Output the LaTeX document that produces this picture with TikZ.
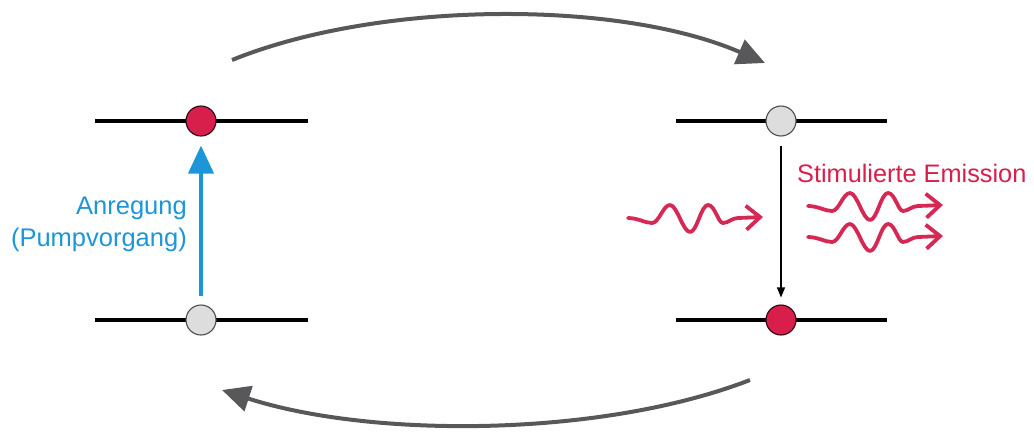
\documentclass[tikz,border=0pt]{standalone}
\usepackage{fontspec}
\setmainfont{Liberation Sans}
\usetikzlibrary{arrows.meta}
\definecolor{myred}{RGB}{216,30,75}
\definecolor{wavered}{RGB}{214,40,85}
\definecolor{myblue}{RGB}{28,150,215}
\definecolor{mygray}{RGB}{221,221,221}
\definecolor{arcgray}{RGB}{88,88,90}
\begin{document}
\begin{tikzpicture}[x=1pt,y=1pt,
  level/.style={line width=3.5pt,black},
  redball/.style={circle,minimum size=30pt,inner sep=0pt,fill=myred,draw=black!80!myred,line width=1.1pt},
  grayball/.style={circle,minimum size=30pt,inner sep=0pt,fill=mygray,draw=black!70,line width=1.1pt},
  cycle/.style={line width=4pt,arcgray,-{Triangle[length=28pt,width=26pt]}},
  wavy/.style={line width=3.8pt,wavered,line cap=round,line join=round,-{Straight Barb[length=14pt,width=24pt]}},
  wave/.pic={\draw[wavy] (0,0) .. controls (10,0) and (17,-5) .. (24,-5)
      .. controls (31,-5) and (35,13) .. (42,13)
      .. controls (49,13) and (55,-14) .. (62,-14)
      .. controls (69,-14) and (73,13) .. (80,13)
      .. controls (87,13) and (90,-5) .. (95,-5)
      .. controls (100,-5) and (104,0) .. (110,0) -- (135,1);}
]
\useasboundingbox (0,0) rectangle (1034,-432);
% levels
\draw[level] (95,-121) -- (308,-121);
\draw[level] (95,-320) -- (308,-320);
\draw[level] (676,-121) -- (887,-121);
\draw[level] (676,-320) -- (887,-320);
% balls
\node[redball] (lt) at (201,-121) {};
\node[grayball] (lb) at (201,-320) {};
\node[grayball] (rt) at (781,-121) {};
\node[redball] (rb) at (781,-320) {};
% pumping
\draw[line width=4pt,myblue,-{Triangle[length=28pt,width=25pt]},shorten <=8pt,shorten >=9pt] (lb) -- (lt);
\node[anchor=east,align=right,text=myblue,font=\fontsize{25.5}{32}\selectfont,inner sep=0pt] (pump) at (187,-224) {Anregung\\(Pumpvorgang)};
% stimulated emission
\draw[line width=1.2pt,black,-{Triangle[length=10pt,width=8pt]},shorten <=9pt,shorten >=7pt] (rt) -- (rb);
\node[anchor=west,text=myred,font=\fontsize{25.3}{30}\selectfont,inner sep=0pt] (se) at (797,-173) {Stimulierte Emission};
\pic at (628,-218) {wave};
\pic at (808,-206) {wave};
\pic at (808,-237) {wave};
% cycle arrows
\coordinate (a1) at (232,-60);
\coordinate (a2) at (765,-63);
\coordinate (b1) at (750,-380);
\coordinate (b2) at (222,-390);
\draw[cycle] (a1) .. controls (380,0) and (620,0) .. (a2);
\draw[cycle] (b1) .. controls (600,-438) and (370,-438) .. (b2);
\end{tikzpicture}
\end{document}
